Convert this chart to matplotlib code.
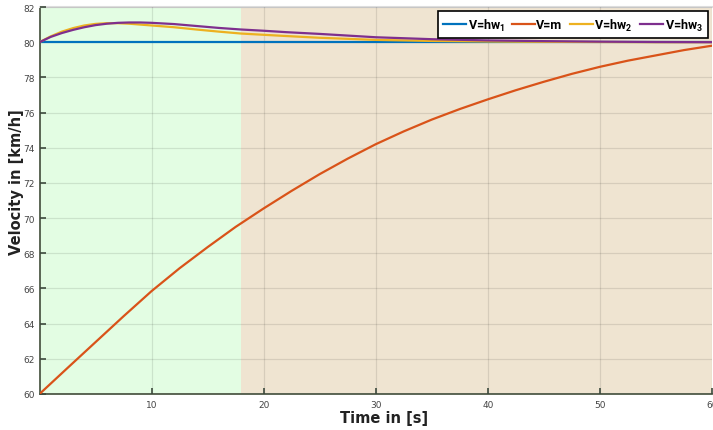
import matplotlib
matplotlib.use("Agg")
import matplotlib.pyplot as plt

# ---- data ----
t_m = [0, 2.5, 5, 7.5, 10, 12.5, 15, 17.5, 20, 22.5, 25, 27.5, 30, 32.5, 35,
       37.5, 40, 42.5, 45, 47.5, 50, 52.5, 55, 57.5, 60]
v_m = [60.0, 61.48, 62.95, 64.42, 65.85, 67.15, 68.35, 69.5, 70.55, 71.55, 72.5,
       73.38, 74.2, 74.93, 75.6, 76.2, 76.75, 77.27, 77.75, 78.2, 78.6, 78.95,
       79.25, 79.55, 79.8]

t_hw1 = [0, 60]
v_hw1 = [80.0, 80.0]

t_hw = [0, 1, 2, 3, 4, 5, 6, 7, 8, 9, 10, 12, 14, 16, 18, 20, 22, 25, 30, 35,
        40, 45, 50, 55, 60]
v_hw2 = [80.0, 80.33, 80.6, 80.8, 80.95, 81.04, 81.08, 81.08, 81.05, 81.0, 80.95,
         80.85, 80.72, 80.6, 80.49, 80.42, 80.35, 80.25, 80.13, 80.07, 80.04,
         80.02, 80.01, 80.0, 80.0]
v_hw3 = [80.0, 80.3, 80.52, 80.7, 80.85, 80.97, 81.05, 81.1, 81.12, 81.12, 81.1,
         81.03, 80.92, 80.81, 80.72, 80.65, 80.57, 80.47, 80.28, 80.17, 80.1,
         80.06, 80.03, 80.01, 80.0]

phase_edges = [0, 18, 60]
phase_colors = ["#e3fde3", "#efe4d1"]

x_ticks = [10, 20, 30, 40, 50, 60]
y_ticks = list(range(60, 83, 2))

labels = [r"V=hw$_\mathbf{1}$", "V=m", r"V=hw$_\mathbf{2}$", r"V=hw$_\mathbf{3}$"]
colors = ["#0072BD", "#D95319", "#EDB120", "#7E2F8E"]

plt.rcParams["mathtext.fontset"] = "custom"
plt.rcParams["mathtext.bf"] = "Roboto:bold"
plt.rcParams["mathtext.rm"] = "Roboto"

# ---- figure ----
fig = plt.figure(figsize=(7.13, 4.31), dpi=100)
ax = fig.add_axes([39.5 / 713, (431 - 395) / 431, (712 - 39.5) / 713, (395 - 8) / 431])

for i in range(len(phase_colors)):
    ax.axvspan(phase_edges[i], phase_edges[i + 1], color=phase_colors[i], lw=0, zorder=0)

ax.grid(True, color="black", alpha=0.10, lw=0.9, zorder=1)
ax.set_axisbelow(False)

l1, = ax.plot(t_hw1, v_hw1, color=colors[0], lw=1.6, zorder=3)
l2, = ax.plot(t_m, v_m, color=colors[1], lw=1.6, zorder=3)
l3, = ax.plot(t_hw, v_hw2, color=colors[2], lw=1.6, zorder=3)
l4, = ax.plot(t_hw, v_hw3, color=colors[3], lw=1.6, zorder=3)

ax.set_xlim(0, 60)
ax.set_ylim(60, 82)
ax.set_xticks(x_ticks)
ax.set_yticks(y_ticks)
ax.tick_params(direction="in", length=4, width=1.2, labelsize=6.5,
               labelcolor="#444444", color="#3d4a3d")
ax.tick_params(axis="x", pad=4)

for s in ["left", "bottom"]:
    ax.spines[s].set_color("#4f5a48")
    ax.spines[s].set_linewidth(1.3)
ax.spines["right"].set_visible(False)
ax.spines["top"].set_color("#dddddd")
ax.spines["top"].set_linewidth(1.5)

ax.set_xlabel("Time in [s]", fontsize=10.5, fontweight="bold", color="#222222")
ax.xaxis.set_label_coords(0.512, -0.041)
ax.set_ylabel("Velocity in [km/h]", fontsize=10.5, fontweight="bold", color="#222222")
ax.yaxis.set_label_coords(-0.023, 0.55)

prop = {"family": ["Roboto", "DejaVu Sans"], "weight": "bold", "size": 9}
leg = ax.legend([l1, l2, l3, l4], labels, loc="upper right", ncol=4,
                bbox_to_anchor=(0.9975, 0.995), fancybox=False, framealpha=1,
                edgecolor="black", handlelength=1.8, handletextpad=0.15,
                columnspacing=0.6, borderpad=0.4, borderaxespad=0.2, prop=prop)
leg.get_frame().set_linewidth(1.2)
leg.set_zorder(5)

fig.savefig("out.png", dpi=100)
